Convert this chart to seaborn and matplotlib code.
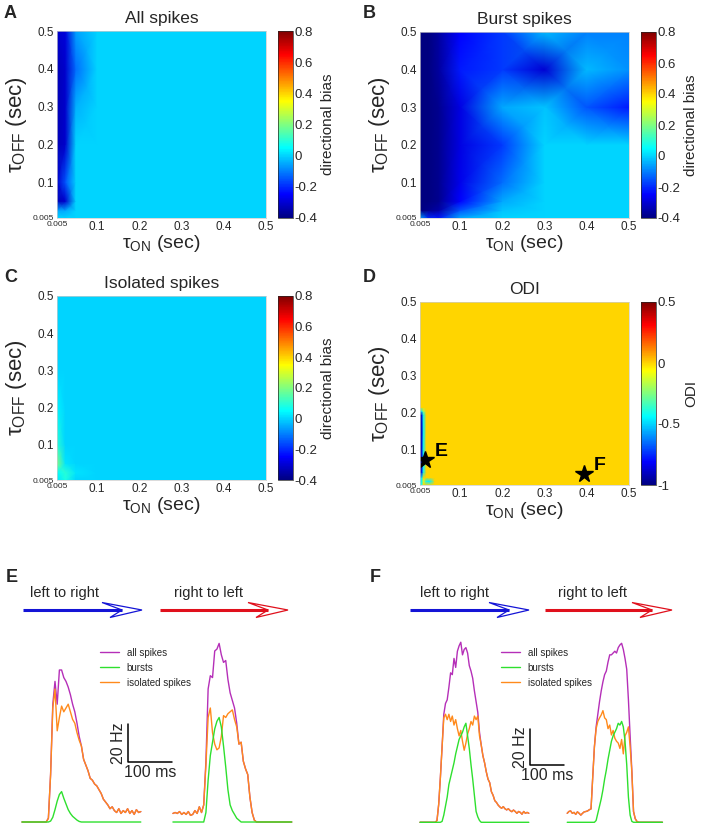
import numpy as np
import matplotlib
matplotlib.use('Agg')
import matplotlib.pyplot as plt
from matplotlib.colors import ListedColormap
from matplotlib.patches import Polygon
import seaborn as sns

W, H = 704, 827

# grid of time constants (sec) used for the parameter maps
taus = [0.005, 0.025, 0.05, 0.1, 0.2, 0.3, 0.4, 0.5]
tau_ticks = [0.005, 0.1, 0.2, 0.3, 0.4, 0.5]
tau_labels = ['0.005', '0.1', '0.2', '0.3', '0.4', '0.5']

# rows: tau_off ascending, cols: tau_on ascending
all_bias = [
    [0.0, 0.0, 0.0, 0.0, 0.0, 0.0, 0.0, 0.0],
    [-0.05, -0.05, 0.0, 0.0, 0.0, 0.0, 0.0, 0.0],
    [-0.33, -0.31, 0.0, 0.0, 0.0, 0.0, 0.0, 0.0],
    [-0.31, -0.15, 0.0, 0.0, 0.0, 0.0, 0.0, 0.0],
    [-0.33, -0.31, 0.0, 0.0, 0.0, 0.0, 0.0, 0.0],
    [-0.33, -0.31, -0.04, 0.0, 0.0, 0.0, 0.0, 0.0],
    [-0.33, -0.31, -0.12, 0.0, 0.0, 0.0, 0.0, 0.0],
    [-0.31, -0.29, -0.06, 0.0, 0.0, 0.0, 0.0, 0.0],
]
burst_bias = [
    [-0.05, -0.2, -0.22, -0.05, 0.0, 0.0, 0.0, 0.0],
    [-0.4, -0.38, -0.35, -0.15, -0.02, 0.0, 0.0, 0.0],
    [-0.4, -0.4, -0.38, -0.25, -0.05, 0.0, 0.0, 0.0],
    [-0.4, -0.4, -0.38, -0.27, -0.12, 0.0, 0.0, 0.0],
    [-0.4, -0.4, -0.38, -0.28, -0.18, 0.0, 0.0, 0.0],
    [-0.4, -0.4, -0.38, -0.28, -0.05, -0.02, -0.15, -0.22],
    [-0.4, -0.4, -0.36, -0.22, -0.18, -0.3, -0.03, -0.08],
    [-0.4, -0.4, -0.36, -0.25, -0.18, -0.03, -0.1, -0.1],
]
isolated_bias = [
    [0.02, 0.08, 0.0, 0.0, 0.0, 0.0, 0.0, 0.0],
    [0.05, 0.1, 0.02, 0.0, 0.0, 0.0, 0.0, 0.0],
    [0.2, 0.02, 0.0, 0.0, 0.0, 0.0, 0.0, 0.0],
    [0.1, 0.0, 0.0, 0.0, 0.0, 0.0, 0.0, 0.0],
    [0.04, 0.0, 0.0, 0.0, 0.0, 0.0, 0.0, 0.0],
    [0.0, 0.0, 0.0, 0.0, 0.0, 0.0, 0.0, 0.0],
    [0.0, 0.0, 0.0, 0.0, 0.0, 0.0, 0.0, 0.0],
    [0.0, 0.0, 0.0, 0.0, 0.0, 0.0, 0.0, 0.0],
]
# ODI map was sampled more finely near the origin
odi_on = [0.005, 0.009, 0.013, 0.02, 0.03, 0.04, 0.1, 0.5]
odi_off = [0.005, 0.015, 0.025, 0.04, 0.1, 0.195, 0.205, 0.215, 0.5]
odi = [
    [-0.4, -0.4, 0.0, 0.0, 0.0, 0.0, 0.0, 0.0],
    [-0.45, -0.45, -0.1, -0.45, -0.45, 0.0, 0.0, 0.0],
    [-0.5, -0.45, 0.0, 0.0, 0.0, 0.0, 0.0, 0.0],
    [-0.95, -0.85, -0.45, 0.0, 0.0, 0.0, 0.0, 0.0],
    [-0.95, -0.9, -0.45, 0.0, 0.0, 0.0, 0.0, 0.0],
    [-0.95, -0.9, -0.45, 0.0, 0.0, 0.0, 0.0, 0.0],
    [-0.45, -0.45, -0.2, 0.0, 0.0, 0.0, 0.0, 0.0],
    [0.0, 0.0, 0.0, 0.0, 0.0, 0.0, 0.0, 0.0],
    [0.0, 0.0, 0.0, 0.0, 0.0, 0.0, 0.0, 0.0],
]
star_points = {'E': (0.016, 0.073), 'F': (0.393, 0.034)}

# PSTHs (Hz), 5 ms bins
bin_ms = 5
E_left_all = [0, 0, 0, 0, 0, 0, 0, 0, 0, 0, 0, 0,
              2, 25, 62, 74, 62, 80, 80, 76, 74, 71, 67, 62, 58, 52, 45, 40, 33,
              30, 27, 23, 22, 20, 19, 17, 15, 12, 10.5, 9, 7, 8, 6, 5, 7, 4.5, 6, 5, 7, 4.5, 6, 4, 6.5, 5, 5.5]
E_left_burst = [0, 0, 0, 0, 0, 0, 0, 0, 0, 0, 0, 0, 0,
                0.5, 2.5, 6.5, 11, 14.5, 16, 12.5, 9.5, 6.5, 4.5, 3, 2, 1, 0.3,
                0, 0, 0, 0, 0, 0, 0, 0, 0, 0, 0, 0, 0, 0, 0, 0, 0, 0, 0, 0, 0, 0, 0, 0, 0, 0, 0, 0]
E_left_iso = [0, 0, 0, 0, 0, 0, 0, 0, 0, 0, 0, 0,
              2, 25, 60, 70, 48, 55, 61, 58, 60, 62, 58, 54, 52, 47, 43, 40, 33, 30, 27, 23, 22, 20, 19, 17,
              15, 12, 10.5, 9, 7, 8, 6, 5, 7, 4.5, 6, 5, 7, 4.5, 6, 4, 6.5, 5, 5.5]
E_right_all = [4.5, 5, 4.5, 5.5, 4, 5, 4, 5.5, 3.5, 4, 6, 4.5, 8, 5, 9,
               32, 70, 77, 76, 90, 91, 94, 88, 84, 85, 75, 68, 64, 60, 52,
               41, 42, 32, 28, 25, 13, 5, 1, 0, 0, 0, 0, 0, 0, 0, 0, 0, 0, 0, 0, 0, 0, 0, 0, 0]
E_right_burst = [0, 0, 0, 0, 0, 0, 0, 0, 0, 0, 0, 0, 0, 0, 0,
                 5, 22, 35, 42, 49, 53, 55, 50, 40, 29, 17, 9, 6, 4, 2, 1,
                 0, 0, 0, 0, 0, 0, 0, 0, 0, 0, 0, 0, 0, 0, 0, 0, 0, 0, 0, 0, 0, 0, 0, 0]
E_right_iso = [4.5, 5, 4.5, 5.5, 4, 5, 4, 5.5, 3.5, 4, 6, 4.5, 8, 5, 9,
               30, 55, 60, 47, 41, 38, 39, 45, 56, 55, 57, 58, 59, 54, 50, 41, 42, 32, 28, 25, 13, 5, 1,
               0, 0, 0, 0, 0, 0, 0, 0, 0, 0, 0, 0, 0, 0, 0, 0, 0]

F_left_all = [0, 0, 0, 0, 0, 0, 0, 0, 0, 0,
              1, 10, 25, 42,
              60, 66, 68, 75, 83, 82, 91, 86, 95, 98, 100, 93, 96, 97, 94, 87, 84, 80, 73, 67, 61, 50,
              43, 37, 33, 28, 24, 22, 17, 15, 12, 11, 9.5, 8.5, 7.8, 8.7, 7.5, 6.9, 7.5, 6.5, 5.9, 6.8,
              6, 5, 6, 5.5, 4.5, 6, 5, 5.5, 5]
F_left_burst = [0, 0, 0, 0, 0, 0, 0, 0, 0, 0, 0, 0, 0,
                0.5, 4, 9, 14, 21, 25, 29, 33, 38, 42, 46, 48, 50, 53, 55, 48, 41, 32, 24, 15, 6, 3, 1,
                0, 0, 0, 0, 0, 0, 0, 0, 0, 0, 0, 0, 0, 0, 0, 0, 0, 0, 0, 0, 0, 0, 0, 0, 0, 0, 0, 0, 0]
F_left_iso = [0, 0, 0, 0, 0, 0, 0, 0, 0, 0,
              1, 10, 25, 42, 58, 60, 57, 60, 56, 59, 54, 57, 52, 48, 51, 45, 40, 44, 49, 52, 56, 54, 59, 57,
              59, 48, 43, 37, 33, 28, 24, 22, 17, 15, 12, 11, 9.5, 8.5, 7.8, 8.7, 7.5, 6.9, 7.5, 6.5, 5.9,
              6.8, 6, 5, 6, 5.5, 4.5, 6, 5, 5.5, 5]
F_right_all = [5, 6, 6.3, 5, 5.5, 4.4, 5.8, 5, 4, 5, 5.8, 6, 6.3, 7, 7.4, 25, 42,
               53, 60, 67, 73, 78, 82, 84, 89, 93, 93, 94, 95, 94, 97, 98.5, 99.4, 96, 91, 85, 68, 48, 29,
               6, 2, 0.5, 0, 0, 0, 0, 0, 0, 0, 0, 0, 0, 0, 0, 0, 0, 0]
F_right_burst = [0, 0, 0, 0, 0, 0, 0, 0, 0, 0, 0, 0, 0, 0, 0, 0, 0,
                 1, 5, 9, 13, 18, 24, 29, 35, 40, 45, 48, 50, 52, 55, 54, 56, 53, 45, 32, 14, 4, 0.5,
                 0, 0, 0, 0, 0, 0, 0, 0, 0, 0, 0, 0, 0, 0, 0, 0, 0, 0]
F_right_iso = [5, 6, 6.3, 5, 5.5, 4.4, 5.8, 5, 4, 5, 5.8, 6, 6.3, 7, 7.4,
               25, 42, 52, 56, 58, 59.6, 62, 58, 57, 52, 54, 48.5, 51, 46.7, 45, 44, 41, 46, 38, 48, 50, 53,
               42, 28, 6, 2, 0.5,
               0, 0, 0, 0, 0, 0, 0, 0, 0, 0, 0, 0, 0, 0, 0]

trace_colors = {'all spikes': '#b52fb8', 'bursts': '#2ee02e', 'isolated spikes': '#ff8a1c'}
scale_ms, scale_hz = 100, 20

sns.set_theme(style='white')
plt.rcParams['font.family'] = ['Liberation Sans', 'DejaVu Sans']
plt.rcParams['mathtext.fontset'] = 'custom'
plt.rcParams['mathtext.rm'] = 'Liberation Sans'
plt.rcParams['mathtext.it'] = 'Liberation Sans:italic'
plt.rcParams['mathtext.bf'] = 'Liberation Sans:bold'
plt.rcParams['axes.unicode_minus'] = False

# MATLAB-style jet
_x = np.linspace(0, 1, 256)
matlab_jet = ListedColormap(np.column_stack([
    np.interp(_x, [0, 0.375, 0.625, 0.875, 1], [0, 0, 1, 1, 0.5]),
    np.interp(_x, [0, 0.125, 0.375, 0.625, 0.875, 1], [0, 0, 1, 1, 0, 0]),
    np.interp(_x, [0, 0.125, 0.375, 0.625, 1], [0.5, 1, 1, 0, 0]),
]))

fig = plt.figure(figsize=(W / 100, H / 100), dpi=100)

# overlay in pixel coordinates for panel letters and arrows
ov = fig.add_axes([0, 0, 1, 1])
ov.set_xlim(0, W)
ov.set_ylim(H, 0)
ov.axis('off')


def px_axes(l, t, r, b):
    return fig.add_axes([l / W, 1 - b / H, (r - l) / W, (b - t) / H])


def heatmap(rect, crect, xs, ys, values, vmin, vmax, ticks, tick_labels, title, cbar_label):
    ax = px_axes(*rect)
    cax = px_axes(*crect)
    mesh = ax.pcolormesh(xs, ys, np.array(values), shading='gouraud',
                         cmap=matlab_jet, vmin=vmin, vmax=vmax)
    ax.set_xlim(0.005, 0.5)
    ax.set_ylim(0.005, 0.5)
    ax.set_xticks(tau_ticks)
    ax.set_xticklabels(tau_labels)
    ax.set_yticks(tau_ticks)
    ax.set_yticklabels(tau_labels)
    ax.tick_params(labelsize=8.5, length=0, pad=2)
    ax.get_xticklabels()[0].set_fontsize(6)
    ax.get_yticklabels()[0].set_fontsize(6)
    for s in ax.spines.values():
        s.set_color('#cccccc')
        s.set_linewidth(0.5)
    ax.set_xlabel('τ$_{\\rm ON}$ (sec)', fontsize=14, labelpad=0)
    ax.set_ylabel('τ$_{\\rm OFF}$ (sec)', fontsize=16, labelpad=3)
    ax.set_title(title, fontsize=12.5, pad=6)
    cb = fig.colorbar(mesh, cax=cax, ticks=ticks)
    cb.ax.set_yticklabels(tick_labels)
    cb.outline.set_linewidth(0.5)
    cb.ax.tick_params(labelsize=9.5, length=0, pad=1)
    cb.set_label(cbar_label, fontsize=11, labelpad=3)
    return ax


bias_ticks = [-0.4, -0.2, 0, 0.2, 0.4, 0.6, 0.8]
bias_labels = ['-0.4', '-0.2', '0', '0.2', '0.4', '0.6', '0.8']
axA = heatmap((57, 31, 266, 218), (278, 31, 293, 218), taus, taus, all_bias, -0.4, 0.8,
              bias_ticks, bias_labels, 'All spikes', 'directional bias')
axB = heatmap((420, 32, 629, 218), (641, 32, 656, 218), taus, taus, burst_bias, -0.4, 0.8,
              bias_ticks, bias_labels, 'Burst spikes', 'directional bias')
axC = heatmap((57, 296, 266, 480), (278, 296, 293, 480), taus, taus, isolated_bias, -0.4, 0.8,
              bias_ticks, bias_labels, 'Isolated spikes', 'directional bias')
axD = heatmap((420, 302, 629, 485), (641, 302, 656, 485), odi_on, odi_off, odi, -1, 0.5,
              [-1, -0.5, 0, 0.5], ['-1', '-0.5', '0', '0.5'], 'ODI', 'ODI')
for name, (x, y) in star_points.items():
    axD.plot(x, y, marker='*', color='black', markersize=13, linestyle='none')
    axD.annotate(name, (x, y), xytext=(7, 3), textcoords='offset points',
                 fontsize=14, fontweight='bold', color='black')


def psth_panel(rect, xlim, ylim, left, right, right_offset, legend_x, bar_pos):
    ax = px_axes(*rect)
    for vals, offset, first in ((left, 0, True), (right, right_offset, False)):
        for key in ('all spikes', 'isolated spikes', 'bursts'):
            y = np.array(vals[key], dtype=float)
            t = np.arange(len(y)) * bin_ms + offset
            sns.lineplot(x=t, y=y, ax=ax, color=trace_colors[key], linewidth=1.0,
                         estimator=None, label=key if first else None, legend=False)
    ax.set_xlim(*xlim)
    ax.set_ylim(*ylim)
    ax.axis('off')
    handles, labels = ax.get_legend_handles_labels()
    order = [labels.index(k) for k in ('all spikes', 'bursts', 'isolated spikes')]
    ax.legend([handles[i] for i in order], [labels[i] for i in order],
              loc='upper left', bbox_to_anchor=(legend_x, 0.9), frameon=False,
              fontsize=7, handlelength=2.0, handletextpad=0.75, labelspacing=0.5,
              borderpad=0, borderaxespad=0)
    # scale bar
    bx, by = bar_pos
    ax.plot([bx, bx, bx + scale_ms], [by + scale_hz, by, by], color='black', lw=1.1)
    ax.text(bx - 5, by + scale_hz / 2, f'{scale_hz} Hz', rotation=90, ha='right', va='center',
            fontsize=11.5)
    ax.text(bx + scale_ms / 2, by - 1.5, f'{scale_ms} ms', ha='center', va='top', fontsize=11.5)
    return ax


psth_panel((15, 628, 300, 826), (-15.9, 631.8), (-2.1, 102.1),
           {'all spikes': E_left_all, 'bursts': E_left_burst, 'isolated spikes': E_left_iso},
           {'all spikes': E_right_all, 'bursts': E_right_burst, 'isolated spikes': E_right_iso},
           343, 0.298, (241, 31.6))
psth_panel((405, 628, 690, 826), (-44.1, 794.1), (-2.06, 107.9),
           {'all spikes': F_left_all, 'bursts': F_left_burst, 'isolated spikes': F_left_iso},
           {'all spikes': F_right_all, 'bursts': F_right_burst, 'isolated spikes': F_right_iso},
           433, 0.337, (323.5, 31.8))


def direction_arrow(x0, x1, y, color):
    notch = x1 - 20
    ov.plot([x0, notch], [y, y], color=color, lw=2.2, solid_capstyle='butt')
    ov.add_patch(Polygon([(x1, y), (x1 - 40, y - 7.5), (notch, y), (x1 - 32, y + 7.5)],
                         closed=True, facecolor='white', edgecolor=color, lw=0.9))


blue, red = '#1414d6', '#e0101c'
for x0, x1, xc in ((23, 142, 65), (410, 529, 454)):
    direction_arrow(x0, x1, 610, blue)
    ov.text(xc, 593, 'left to right', ha='center', va='center', fontsize=10.5)
for x0, x1, xc in ((160, 288, 209), (545, 672, 592)):
    direction_arrow(x0, x1, 610, red)
    ov.text(xc, 593, 'right to left', ha='center', va='center', fontsize=10.5)

for letter, x, y in (('A', 4, 13), ('B', 363, 13), ('C', 4, 277), ('D', 363, 277),
                     ('E', 6, 577), ('F', 370, 577)):
    ov.text(x, y, letter, ha='left', va='center', fontsize=13, fontweight='bold')

fig.savefig('out.png', dpi=100)
